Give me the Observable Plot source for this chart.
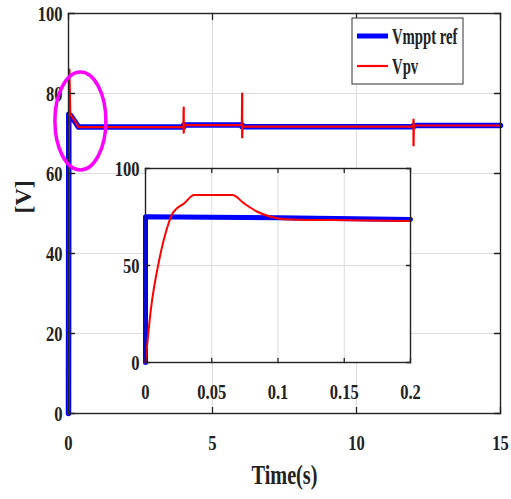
<!DOCTYPE html>
<html><head><meta charset="utf-8">
<script src="https://cdn.jsdelivr.net/npm/d3@7"></script>
<script src="https://cdn.jsdelivr.net/npm/@observablehq/plot@0.6"></script>
<style>
body{margin:0;background:#fff;}
#chart{position:relative;width:511px;height:499px;}
</style>
</head><body><div id="chart"></div>
<script>
// ---- data ----
const seriesNames = ["Vmppt ref", "Vpv"];
const seriesColors = ["#0000ff", "#ff0000"];

// main plot (0 - 15 s)
const refTime = [0, 0.01, 0.08, 0.35, 4.0, 4.0, 6.03, 6.03, 11.98, 11.98, 15];
const refVolt = [0, 74.8, 74.5, 71.6, 71.6, 72.1, 72.1, 71.7, 71.7, 72.0, 72.0];
const pvTime = [0, 0.01, 0.03, 0.06, 0.1, 0.35, 3.99, 4.0, 4.0, 4.01, 6.02, 6.03, 6.03, 6.04, 11.97, 11.98, 11.98, 11.99, 15];
const pvVolt = [0, 60, 86, 75, 74.5, 71.6, 71.6, 76.5, 70.2, 72.1, 72.1, 80, 69, 71.7, 71.7, 73.5, 67, 72.0, 72.0];

// inset (0 - 0.2 s)
const insetRefTime = [0, 0, 0.1, 0.2];
const insetRefVolt = [0, 75.1, 74.6, 73.7];
const insetPvTime = [0, 0.004, 0.0103, 0.0166, 0.0204, 0.0229, 0.0291, 0.0367, 0.0656, 0.0744, 0.0844, 0.0945, 0.1045, 0.14, 0.2];
const insetPvVolt = [0, 27, 52.7, 70, 76.8, 78.9, 82, 86.3, 86.3, 82, 77.7, 75.1, 73.9, 73.4, 73.0];

// ticks
const mainXTicks = [0, 5, 10, 15];
const mainYTicks = [0, 20, 40, 60, 80, 100];
const insetXTicks = [0, 0.05, 0.1, 0.15, 0.2];
const insetYTicks = [0, 50, 100];

const xLabel = "Time(s)";
const yLabel = "[V]";

// highlight annotation (data units: centre time / voltage, radii)
const highlight = {t: 0.43, v: 73, rt: 0.885, rv: 12.25};

// ---- helpers ----
const rows = (ts, vs) => ts.map((t, i) => ({t, v: vs[i]}));
const tickShape = {draw(ctx, l) { ctx.moveTo(0, 0); ctx.lineTo(0, -l); }};
function boxTicks(xt, yt, xd, yd, len) {
  const o = {length: len, anchor: "start", shape: tickShape, stroke: "#222", strokeWidth: 1.3};
  return [
    Plot.vector(xt, {...o, x: d => d, y: () => yd[0], rotate: 0}),
    Plot.vector(xt, {...o, x: d => d, y: () => yd[1], rotate: 180}),
    Plot.vector(yt, {...o, x: () => xd[0], y: d => d, rotate: 90}),
    Plot.vector(yt, {...o, x: () => xd[1], y: d => d, rotate: -90})
  ];
}
const font = {fontFamily: "'Liberation Serif', 'Times New Roman', serif", fontWeight: "bold", fontSize: "22px", color: "#222", background: "transparent", overflow: "visible"};
const grid = {stroke: "#dcdcdc", strokeOpacity: 1, strokeWidth: 1};

// ---- main plot ----
const main = Plot.plot({
  width: 511, height: 499,
  marginLeft: 68, marginRight: 11, marginTop: 13, marginBottom: 86,
  style: font,
  x: {domain: [0, 15], label: null},
  y: {domain: [0, 100], label: null},
  marks: [
    Plot.gridX(mainXTicks.slice(1, -1), grid),
    Plot.gridY(mainYTicks.slice(1, -1), grid),
    Plot.line(rows(refTime, refVolt), {x: "t", y: "v", stroke: seriesColors[0], strokeWidth: 5.5}),
    Plot.line(rows(pvTime, pvVolt), {x: "t", y: "v", stroke: seriesColors[1], strokeWidth: 2.2}),
    Plot.frame({stroke: "#222", strokeWidth: 1.4}),
    ...boxTicks(mainXTicks, mainYTicks, [0, 15], [0, 100], 6),
    Plot.axisX(mainXTicks, {tickSize: 0, tickPadding: 21, label: null, fontSize: 22}),
    Plot.axisY(mainYTicks, {tickSize: 0, tickPadding: 6, label: null, fontSize: 22}),
    Plot.text([xLabel], {frameAnchor: "bottom", dy: 70, fontSize: 27, fill: "#222"}),
    Plot.text([yLabel], {frameAnchor: "left", dx: -45, rotate: -90, fontSize: 24, fill: "#222"})
  ]
});

// ---- inset plot ----
const inset = Plot.plot({
  width: 330, height: 254,
  marginLeft: 50, marginRight: 15, marginTop: 15, marginBottom: 45,
  style: font,
  x: {domain: [0, 0.2], label: null},
  y: {domain: [0, 100], label: null},
  marks: [
    Plot.frame({fill: "white"}),
    Plot.gridX(insetXTicks.slice(1, -1), grid),
    Plot.gridY(insetYTicks.slice(1, -1), grid),
    Plot.line(rows(insetRefTime, insetRefVolt), {x: "t", y: "v", stroke: seriesColors[0], strokeWidth: 5}),
    Plot.line(rows(insetPvTime, insetPvVolt), {x: "t", y: "v", stroke: seriesColors[1], strokeWidth: 2, curve: "monotone-x"}),
    Plot.frame({stroke: "#222", strokeWidth: 1.4}),
    ...boxTicks(insetXTicks, insetYTicks, [0, 0.2], [0, 100], 4),
    Plot.axisX(insetXTicks, {tickSize: 0, tickPadding: 21, label: null, fontSize: 22, tickFormat: d => String(d)}),
    Plot.axisY(insetYTicks, {tickSize: 0, tickPadding: 6, label: null, fontSize: 22})
  ]
});

const chart = document.getElementById("chart");
chart.appendChild(main);
inset.style.position = "absolute";
inset.style.left = (145 - 50) + "px";
inset.style.top = (168 - 15) + "px";
chart.appendChild(inset);

// ---- annotation ellipse ----
const NS = "http://www.w3.org/2000/svg";
const xs = main.scale("x"), ys = main.scale("y");
const cx = xs.apply(highlight.t), cy = ys.apply(highlight.v);
const ell = document.createElementNS(NS, "ellipse");
ell.setAttribute("cx", cx);
ell.setAttribute("cy", cy);
ell.setAttribute("rx", xs.apply(highlight.t + highlight.rt) - cx);
ell.setAttribute("ry", cy - ys.apply(highlight.v + highlight.rv));
ell.setAttribute("fill", "none");
ell.setAttribute("stroke", "#ff00ff");
ell.setAttribute("stroke-width", 3.5);
main.appendChild(ell);

// ---- legend ----
const lg = document.createElementNS(NS, "g");
lg.innerHTML = `<rect x="352" y="18" width="111" height="66" fill="white" stroke="#333" stroke-width="1"/>`;
seriesNames.forEach((name, i) => {
  const y = 36 + i * 30;
  const line = document.createElementNS(NS, "line");
  line.setAttribute("x1", 357); line.setAttribute("x2", 388);
  line.setAttribute("y1", y); line.setAttribute("y2", y);
  line.setAttribute("stroke", seriesColors[i]);
  line.setAttribute("stroke-width", i === 0 ? 5 : 2.2);
  lg.appendChild(line);
  const t = document.createElementNS(NS, "text");
  t.setAttribute("x", 392); t.setAttribute("y", y + 8);
  t.setAttribute("font-size", 23);
  t.setAttribute("text-anchor", "start");
  t.setAttribute("fill", "#222");
  t.setAttribute("data-cf", "0.64");
  t.textContent = name;
  lg.appendChild(t);
});
main.appendChild(lg);

// ---- condense serif glyphs (narrow Times look) ----
function condense(svg, def) {
  svg.querySelectorAll("text").forEach(el => {
    if (el.textContent === yLabel) return;
    const f = el.getAttribute("data-cf") ? +el.getAttribute("data-cf") : def;
    const len = el.getComputedTextLength();
    if (!len) return;
    el.setAttribute("textLength", (len * f).toFixed(1));
    el.setAttribute("lengthAdjust", "spacingAndGlyphs");
  });
}
condense(main, 0.75);
condense(inset, 0.75);
</script>
</body></html>
